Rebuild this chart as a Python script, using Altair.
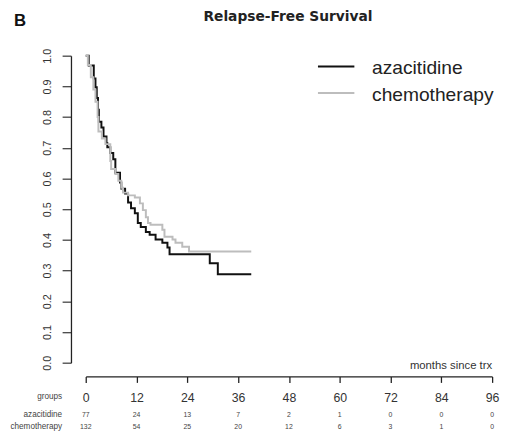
import altair as alt
import pandas as pd

# ---- data ----
aza_t = [0, 0.7, 1.9, 2.3, 2.6, 2.9, 3.1, 3.7, 4.2, 4.9, 5.1, 5.8, 6.5, 7.0, 8.1, 8.4, 9.3, 10.0, 10.7,
         11.6, 12.3, 13.0, 14.2, 15.1, 16.5, 18.1, 19.3, 19.8, 29.3, 31.2, 39.1]
aza_s = [1.0, 0.968, 0.926, 0.897, 0.862, 0.824, 0.785, 0.766, 0.737, 0.715, 0.702, 0.683, 0.663, 0.619,
         0.587, 0.567, 0.551, 0.522, 0.503, 0.487, 0.455, 0.442, 0.426, 0.417, 0.401, 0.391, 0.375, 0.353,
         0.324, 0.288, 0.288]
chemo_t = [0, 0.5, 1.2, 1.8, 2.3, 2.8, 3.0, 3.8, 4.65, 5.8, 6.0, 7.0, 7.7, 8.4, 8.8, 10.0, 11.6, 12.8,
           13.5, 14.2, 14.7, 15.3, 18.1, 18.6, 20.5, 21.2, 22.8, 24.4, 39.1]
chemo_s = [1.0, 0.97, 0.93, 0.89, 0.85, 0.80, 0.753, 0.73, 0.712, 0.657, 0.631, 0.615, 0.593, 0.570,
           0.554, 0.545, 0.538, 0.519, 0.497, 0.474, 0.455, 0.449, 0.433, 0.410, 0.401, 0.391, 0.378,
           0.362, 0.362]

groups = ["azacitidine", "chemotherapy"]
colors = ["#111111", "#bdbdbd"]
tick_months = [0, 12, 24, 36, 48, 60, 72, 84, 96]
risk_aza = [77, 24, 13, 7, 2, 1, 0, 0, 0]
risk_chemo = [132, 54, 25, 20, 12, 6, 3, 1, 0]
y_ticks = [0.0, 0.1, 0.2, 0.3, 0.4, 0.5, 0.6, 0.7, 0.8, 0.9, 1.0]

curves = pd.DataFrame(
    {"t": aza_t + chemo_t, "s": aza_s + chemo_s,
     "group": [groups[0]] * len(aza_t) + [groups[1]] * len(chemo_t)}
)
risk = pd.DataFrame(
    {"t": tick_months * 2, "n": [str(v) for v in risk_aza + risk_chemo],
     "row": [groups[0]] * 9 + [groups[1]] * 9}
)

W, H = 413, 312
xs = alt.Scale(domain=[0, 96], nice=False)
ys = alt.Scale(domain=[0, 1], nice=False)

lines = alt.Chart(curves).mark_line(interpolate="step-after", strokeWidth=2).encode(
    x=alt.X("t:Q", scale=xs,
            axis=alt.Axis(values=tick_months, title=None, grid=False, offset=14, tickSize=6,
                          labelFontSize=12.5, labelColor="#333", labelFont="Liberation Sans",
                          labelFlush=False, labelPadding=9, domainColor="#222", tickColor="#222",
                          domainWidth=1.3, tickWidth=1.3)),
    y=alt.Y("s:Q", scale=ys,
            axis=alt.Axis(values=y_ticks, format=".1f", title=None, grid=False, offset=15, tickSize=9,
                          labelAngle=270, labelAlign="center", labelBaseline="bottom",
                          labelFontSize=11, labelColor="#333", labelFont="Liberation Sans",
                          labelPadding=10, domainColor="#222", tickColor="#444",
                          domainWidth=1.3, tickWidth=1.3)),
    color=alt.Color("group:N", scale=alt.Scale(domain=groups, range=colors), legend=None),
)

risk_aza_txt = alt.Chart(risk[risk.row == groups[0]]).mark_text(
    fontSize=7, font="Liberation Sans", color="#444", baseline="middle"
).encode(x=alt.X("t:Q", scale=xs), y=alt.value(365), text="n:N")
risk_chemo_txt = alt.Chart(risk[risk.row == groups[1]]).mark_text(
    fontSize=7, font="Liberation Sans", color="#444", baseline="middle"
).encode(x=alt.X("t:Q", scale=xs), y=alt.value(377), text="n:N")

row_labels = pd.DataFrame({"label": ["groups", "azacitidine", "chemotherapy"],
                           "yy": [347, 365, 377]})
row_txt = alt.Chart(row_labels).mark_text(
    fontSize=8.3, font="Liberation Sans", color="#444", align="right", baseline="middle"
).encode(x=alt.value(-24), y=alt.Y("yy:Q", scale=None), text="label:N")

leg_lines = pd.DataFrame({"group": groups, "yy": [11, 38]})
leg_rules = alt.Chart(leg_lines).mark_rule(strokeWidth=2).encode(
    x=alt.value(236), x2=alt.value(273), y=alt.Y("yy:Q", scale=None),
    color=alt.Color("group:N", scale=alt.Scale(domain=groups, range=colors), legend=None),
)
leg_text_df = pd.DataFrame({"group": groups, "yy": [19, 46]})
leg_text = alt.Chart(leg_text_df).mark_text(
    fontSize=19.5, font="Liberation Sans", color="#222", align="left", baseline="alphabetic"
).encode(x=alt.value(291), y=alt.Y("yy:Q", scale=None), text="group:N")

title_txt = alt.Chart(pd.DataFrame({"t": ["Relapse-Free Survival"]})).mark_text(
    fontSize=14, font="DejaVu Sans", fontWeight="bold", color="#222", align="center", baseline="middle"
).encode(x=alt.value(205.5), y=alt.value(-39), text="t:N")
b_txt = alt.Chart(pd.DataFrame({"t": ["B"]})).mark_text(
    fontSize=17, font="Liberation Sans", fontWeight="bold", color="#111", align="left", baseline="middle"
).encode(x=alt.value(-73), y=alt.value(-35), text="t:N")
xlab_txt = alt.Chart(pd.DataFrame({"t": ["months since trx"]})).mark_text(
    fontSize=11.5, font="Liberation Sans", color="#333", align="right", baseline="middle"
).encode(x=alt.value(413), y=alt.value(315), text="t:N")

chart = alt.layer(
    lines, risk_aza_txt, risk_chemo_txt, row_txt, leg_rules, leg_text, title_txt, b_txt, xlab_txt
).properties(
    width=W, height=H,
    autosize=alt.AutoSizeParams(type="none"),
    padding={"left": 79, "top": 45, "right": 8, "bottom": 70},
).configure_view(stroke=None)

chart.save("out.html", embed_options={"renderer": "svg", "actions": False})
